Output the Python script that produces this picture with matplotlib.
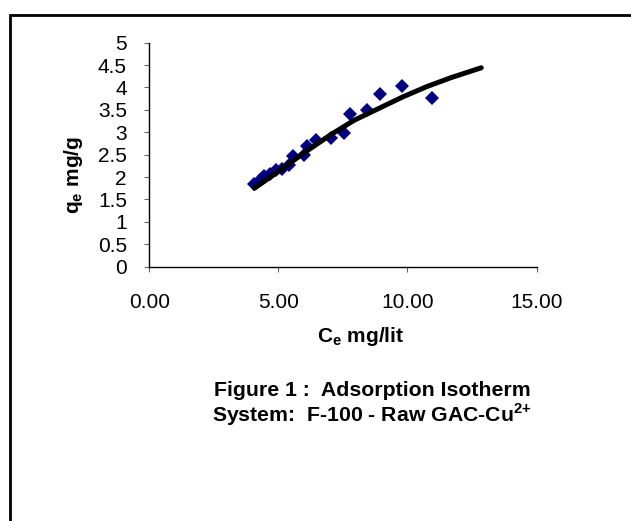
import matplotlib.pyplot as plt
from matplotlib.patches import Rectangle

plt.rcParams['font.family'] = ['Liberation Sans', 'DejaVu Sans']

# measured points
ce = [4.07, 4.28, 4.46, 4.67, 4.90, 5.13, 5.42, 5.57, 5.99, 6.10, 6.46,
      7.05, 7.55, 7.76, 8.43, 8.95, 9.79, 10.95]
qe = [1.85, 1.94, 2.03, 2.08, 2.16, 2.19, 2.27, 2.46, 2.49, 2.69, 2.83,
      2.87, 2.99, 3.40, 3.50, 3.85, 4.04, 3.77]

# fitted isotherm curve
fit_ce = [4.07, 5.13, 6.07, 7.01, 7.94, 8.88, 9.82, 10.75, 11.69, 12.86]
fit_qe = [1.75, 2.18, 2.57, 2.94, 3.27, 3.53, 3.79, 4.02, 4.22, 4.44]

x_ticks = [0, 5, 10, 15]
y_ticks = [0, 0.5, 1, 1.5, 2, 2.5, 3, 3.5, 4, 4.5, 5]

fig = plt.figure(figsize=(6.31, 5.21), dpi=100)
W, H = 631, 521
ax = fig.add_axes([149.3 / W, 1 - 266.7 / H, (536.5 - 149.3) / W, (266.7 - 42.7) / H])

ax.plot(fit_ce, fit_qe, color='black', lw=3.6, solid_capstyle='round', zorder=3)
ax.plot(ce, qe, 'D', color='#000080', markersize=7, markeredgewidth=0, zorder=2)

ax.set_xlim(0, 15)
ax.set_ylim(0, 5)
ax.set_xticks(x_ticks)
ax.set_xticklabels(['%.2f' % v for v in x_ticks])
ax.set_yticks(y_ticks)
ax.set_yticklabels(['%g' % v for v in y_ticks])
ax.spines['top'].set_visible(False)
ax.spines['right'].set_visible(False)
for s in ('left', 'bottom'):
    ax.spines[s].set_linewidth(1)
ax.tick_params(axis='x', direction='out', length=3.6, width=0.8, color='#666666',
               labelsize=15, pad=15)
ax.tick_params(axis='y', direction='out', length=3.6, width=0.8, color='#666666',
               labelsize=15, pad=12.5)

ax.set_xlabel('C$_\\mathregular{e}$ mg/lit', fontsize=15, fontweight='bold')
ax.set_ylabel('q$_\\mathregular{e}$ mg/g', fontsize=15, fontweight='bold')
ax.xaxis.set_label_coords(0.545, -0.262)
ax.yaxis.set_label_coords(-0.166, 0.409)

fig.text(372 / W, 1 - 390 / H, 'Figure 1 :  Adsorption Isotherm',
         ha='center', va='center', fontsize=15.3, fontweight='bold')
fig.text(372 / W, 1 - 415 / H, 'System:  F-100 - Raw GAC-Cu$^{\\mathregular{2{+}}}$',
         ha='center', va='center', fontsize=15.3, fontweight='bold')

# outer frame
fig.patches.append(Rectangle((10 / W, -0.1), 1.2, 1.1 - 15 / H, transform=fig.transFigure,
                             fill=False, edgecolor='black', lw=2))

fig.savefig('out.png', dpi=100)
